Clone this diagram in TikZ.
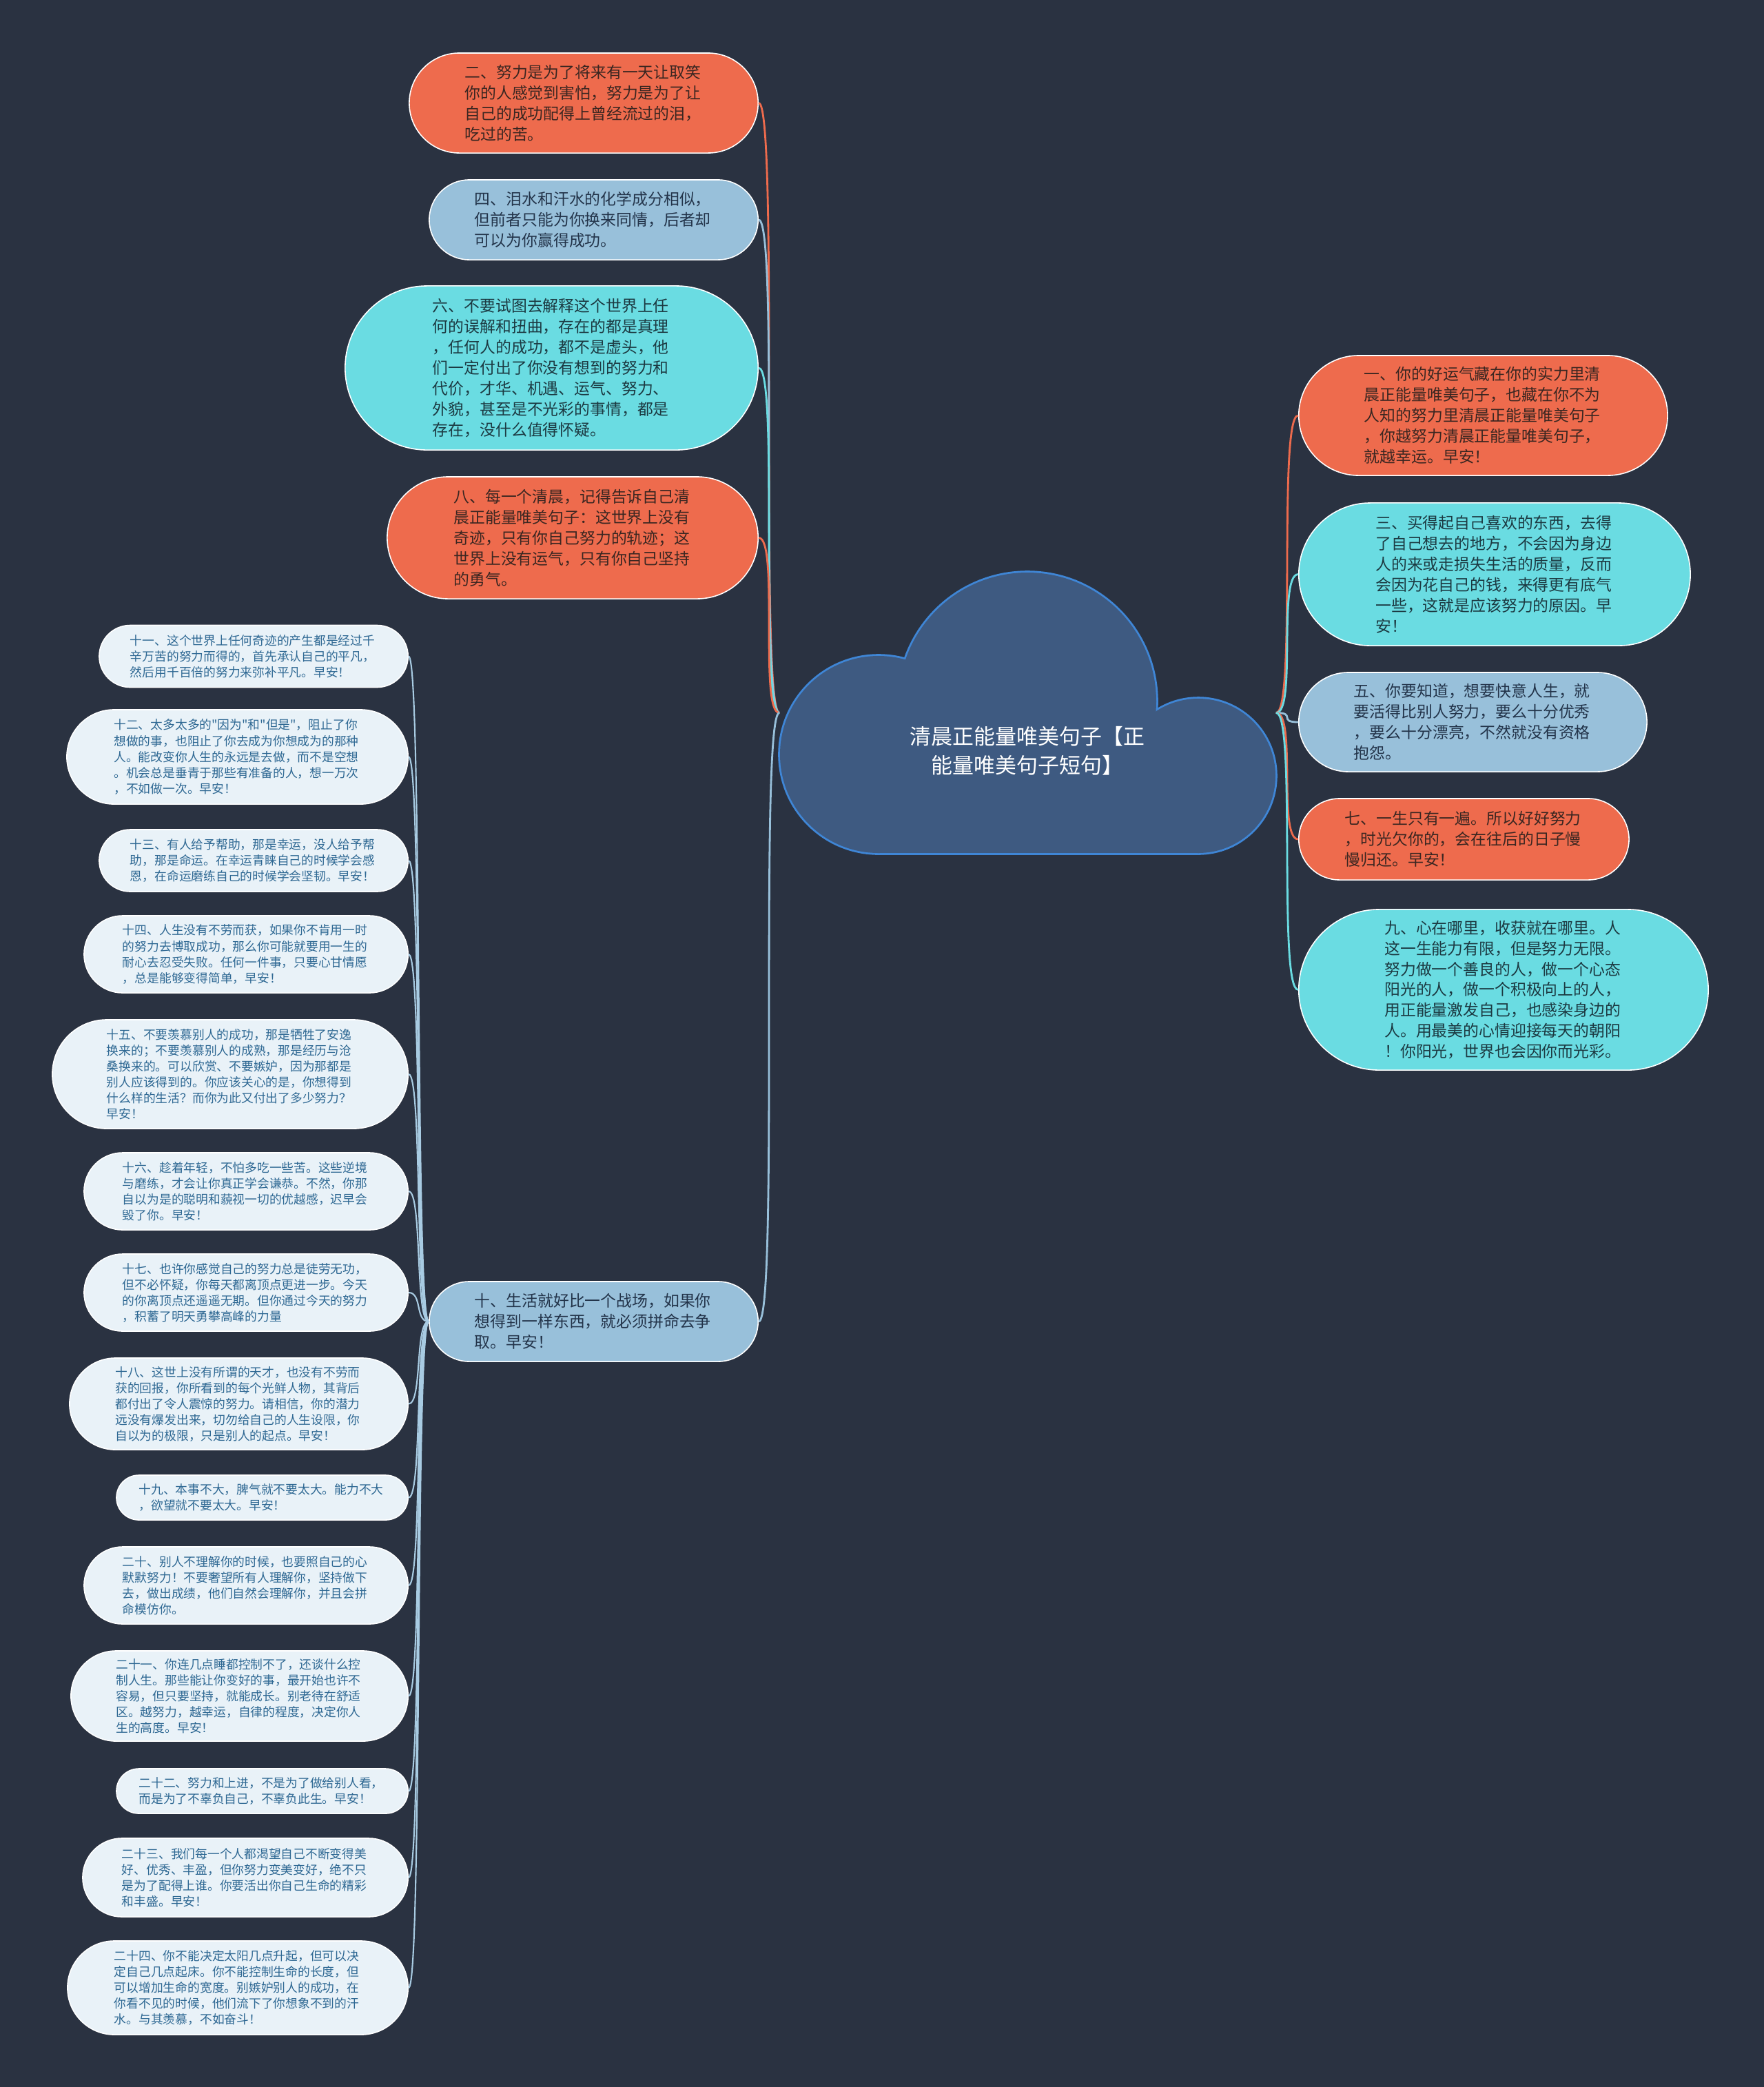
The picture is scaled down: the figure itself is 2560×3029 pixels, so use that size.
\documentclass[tikz,border=0pt]{standalone}
\usepackage{fontspec}
\usepackage{tikz}
\newfontfamily\cjk{Noto Sans CJK SC}
\definecolor{bgnavy}{HTML}{2A3241}
\definecolor{coral}{HTML}{EE6B4D}
\definecolor{aqua}{HTML}{6ADCE2}
\definecolor{skyblue}{HTML}{98C0DA}
\definecolor{paleblue}{HTML}{E9F2F8}
\definecolor{leaflink}{HTML}{A8CBE2}
\definecolor{leaftext}{HTML}{2E6893}
\definecolor{coraltext}{HTML}{3A2621}
\definecolor{aquatext}{HTML}{1C3A42}
\definecolor{skytext}{HTML}{23344A}
\definecolor{cloudfill}{HTML}{3E5A81}
\definecolor{cloudline}{HTML}{3F86D6}
\newcommand{\boxfont}{\cjk\fontsize{6.5pt}{8.5pt}\selectfont}
\newcommand{\leaffont}{\cjk\fontsize{5.05pt}{6.55pt}\selectfont}
\newcommand{\rootfont}{\cjk\fontsize{8.8pt}{12pt}\selectfont}
\tikzset{
  box/.style={rectangle, draw=white, line width=0.45pt, align=left, inner ysep=0pt},
  bigbox/.style={box, text width=3.45cm, font=\boxfont},
  coralbox/.style={bigbox, fill=coral, text=coraltext},
  aquabox/.style={bigbox, fill=aqua, text=aquatext},
  skybox/.style={bigbox, fill=skyblue, text=skytext},
  leafbox/.style={box, fill=paleblue, text=leaftext, text width=3.58cm, font=\leaffont},
  pill/.style={minimum height=#1cm, rounded corners=#1*0.5cm, inner xsep=#1*0.5cm+0.08cm},
  leafpill/.style={minimum height=#1cm, rounded corners=#1*0.5cm, inner xsep=#1*0.5cm},
  link/.style={line width=0.8pt},
  leaf link/.style={line width=0.6pt, leaflink}
}
\begin{document}
\begin{tikzpicture}[x=0.01cm,y=-0.01cm]
    \fill[bgnavy] (0,0) rectangle (2560,3029);
    \useasboundingbox (0,0) rectangle (2560,3029);
    % cloud
    \begin{scope}[draw=cloudline,line width=1.6pt]
      \draw (1491,1018) circle (187);
      \draw (1275,1095) circle (143);
      \draw (1739,1126) circle (112);
      \draw (1275,1040) rectangle (1739,1238);
    \end{scope}
    \fill[cloudfill] (1491,1018) circle (187);
    \fill[cloudfill] (1275,1095) circle (143);
    \fill[cloudfill] (1739,1126) circle (112);
    \fill[cloudfill] (1275,1040) rectangle (1739,1238);
    \node[minimum width=7.19cm,minimum height=4.07cm] (root) at (1491.5,1034.5) {};
    \node[text=white,font=\rootfont,align=center] (roottext) at (1491,1090)
      {清晨正能量唯美句子【正\\能量唯美句子短句】};

    \node[coralbox,pill=1.45,anchor=east] (n2) at (1101,149.5)
      {二、努力是为了将来有一天让取笑\\你的人感觉到害怕，努力是为了让\\自己的成功配得上曾经流过的泪，\\吃过的苦。};
    \node[skybox,pill=1.16,anchor=east] (n4) at (1101,319)
      {四、泪水和汗水的化学成分相似，\\但前者只能为你换来同情，后者却\\可以为你赢得成功。};
    \node[aquabox,pill=2.38,anchor=east] (n6) at (1101,534)
      {六、不要试图去解释这个世界上任\\何的误解和扭曲，存在的都是真理\\，任何人的成功，都不是虚头，他\\们一定付出了你没有想到的努力和\\代价，才华、机遇、运气、努力、\\外貌，甚至是不光彩的事情，都是\\存在，没什么值得怀疑。};
    \node[coralbox,pill=1.77,anchor=east] (n8) at (1101,780.5)
      {八、每一个清晨，记得告诉自己清\\晨正能量唯美句子：这世界上没有\\奇迹，只有你自己努力的轨迹；这\\世界上没有运气，只有你自己坚持\\的勇气。};
    \node[skybox,pill=1.16,anchor=east] (n10) at (1101,1918)
      {十、生活就好比一个战场，如果你\\想得到一样东西，就必须拼命去争\\取。早安！};

    \node[coralbox,pill=1.74,anchor=west] (n1) at (1884,603)
      {一、你的好运气藏在你的实力里清\\晨正能量唯美句子，也藏在你不为\\人知的努力里清晨正能量唯美句子\\，你越努力清晨正能量唯美句子，\\就越幸运。早安！};
    \node[aquabox,pill=2.07,anchor=west] (n3) at (1884,833.5)
      {三、买得起自己喜欢的东西，去得\\了自己想去的地方，不会因为身边\\人的来或走损失生活的质量，反而\\会因为花自己的钱，来得更有底气\\一些，这就是应该努力的原因。早\\安！};
    \node[skybox,pill=1.44,anchor=west] (n5) at (1884,1048)
      {五、你要知道，想要快意人生，就\\要活得比别人努力，要么十分优秀\\，要么十分漂亮，不然就没有资格\\抱怨。};
    \node[coralbox,pill=1.18,anchor=west] (n7) at (1884,1218)
      {七、一生只有一遍。所以好好努力\\，时光欠你的，会在往后的日子慢\\慢归还。早安！};
    \node[aquabox,pill=2.33,anchor=west] (n9) at (1884,1436.5)
      {九、心在哪里，收获就在哪里。人\\这一生能力有限，但是努力无限。\\努力做一个善良的人，做一个心态\\阳光的人，做一个积极向上的人，\\用正能量激发自己，也感染身边的\\人。用最美的心情迎接每天的朝阳\\！你阳光，世界也会因你而光彩。};

    \node[leafbox,leafpill=0.90,anchor=east] (n11) at (593,952.5)
      {十一、这个世界上任何奇迹的产生都是经过千\\辛万苦的努力而得的，首先承认自己的平凡，\\然后用千百倍的努力来弥补平凡。早安！};
    \node[leafbox,leafpill=1.37,anchor=east] (n12) at (593,1098.5)
      {十二、太多太多的"因为"和"但是"，阻止了你\\想做的事，也阻止了你去成为你想成为的那种\\人。能改变你人生的永远是去做，而不是空想\\。机会总是垂青于那些有准备的人，想一万次\\，不如做一次。早安！};
    \node[leafbox,leafpill=0.90,anchor=east] (n13) at (593,1249)
      {十三、有人给予帮助，那是幸运，没人给予帮\\助，那是命运。在幸运青睐自己的时候学会感\\恩，在命运磨练自己的时候学会坚韧。早安！};
    \node[leafbox,leafpill=1.12,anchor=east] (n14) at (593,1385)
      {十四、人生没有不劳而获，如果你不肯用一时\\的努力去博取成功，那么你可能就要用一生的\\耐心去忍受失败。任何一件事，只要心甘情愿\\，总是能够变得简单，早安！};
    \node[leafbox,leafpill=1.58,anchor=east] (n15) at (593,1559)
      {十五、不要羡慕别人的成功，那是牺牲了安逸\\换来的；不要羡慕别人的成熟，那是经历与沧\\桑换来的。可以欣赏、不要嫉妒，因为那都是\\别人应该得到的。你应该关心的是，你想得到\\什么样的生活？而你为此又付出了多少努力？\\早安！};
    \node[leafbox,leafpill=1.12,anchor=east] (n16) at (593,1729)
      {十六、趁着年轻，不怕多吃一些苦。这些逆境\\与磨练，才会让你真正学会谦恭。不然，你那\\自以为是的聪明和藐视一切的优越感，迟早会\\毁了你。早安！};
    \node[leafbox,leafpill=1.12,anchor=east] (n17) at (593,1876)
      {十七、也许你感觉自己的努力总是徒劳无功，\\但不必怀疑，你每天都离顶点更进一步。今天\\的你离顶点还遥遥无期。但你通过今天的努力\\，积蓄了明天勇攀高峰的力量};
    \node[leafbox,leafpill=1.33,anchor=east] (n18) at (593,2037.5)
      {十八、这世上没有所谓的天才，也没有不劳而\\获的回报，你所看到的每个光鲜人物，其背后\\都付出了令人震惊的努力。请相信，你的潜力\\远没有爆发出来，切勿给自己的人生设限，你\\自以为的极限，只是别人的起点。早安！};
    \node[leafbox,leafpill=0.65,anchor=east] (n19) at (593,2173.5)
      {十九、本事不大，脾气就不要太大。能力不大\\，欲望就不要太大。早安！};
    \node[leafbox,leafpill=1.12,anchor=east] (n20) at (593,2301)
      {二十、别人不理解你的时候，也要照自己的心\\默默努力！不要奢望所有人理解你，坚持做下\\去，做出成绩，他们自然会理解你，并且会拼\\命模仿你。};
    \node[leafbox,leafpill=1.31,anchor=east] (n21) at (593,2461.5)
      {二十一、你连几点睡都控制不了，还谈什么控\\制人生。那些能让你变好的事，最开始也许不\\容易，但只要坚持，就能成长。别老待在舒适\\区。越努力，越幸运，自律的程度，决定你人\\生的高度。早安！};
    \node[leafbox,leafpill=0.65,anchor=east] (n22) at (593,2599.5)
      {二十二、努力和上进，不是为了做给别人看，\\而是为了不辜负自己，不辜负此生。早安！};
    \node[leafbox,leafpill=1.14,anchor=east] (n23) at (593,2725)
      {二十三、我们每一个人都渴望自己不断变得美\\好、优秀、丰盈，但你努力变美变好，绝不只\\是为了配得上谁。你要活出你自己生命的精彩\\和丰盛。早安！};
    \node[leafbox,leafpill=1.36,anchor=east] (n24) at (593,2885)
      {二十四、你不能决定太阳几点升起，但可以决\\定自己几点起床。你不能控制生命的长度，但\\可以增加生命的宽度。别嫉妒别人的成功，在\\你看不见的时候，他们流下了你想象不到的汗\\水。与其羡慕，不如奋斗！};

    \foreach \n/\c in {n2/coral,n4/skyblue,n6/aqua,n8/coral,n10/skyblue}
      \draw[link,\c] (root.west) .. controls +(-30,0) and +(30,0) .. (\n.east);
    \foreach \n/\c in {n1/coral,n3/aqua,n5/skyblue,n7/coral,n9/aqua}
      \draw[link,\c] (root.east) .. controls +(30,0) and +(-30,0) .. (\n.west);
    \foreach \n in {n11,n12,n13,n14,n15,n16,n17,n18,n19,n20,n21,n22,n23,n24}
      \draw[leaf link] (n10.west) .. controls +(-20,0) and +(20,0) .. (\n.east);
  \end{tikzpicture}
\end{document}
